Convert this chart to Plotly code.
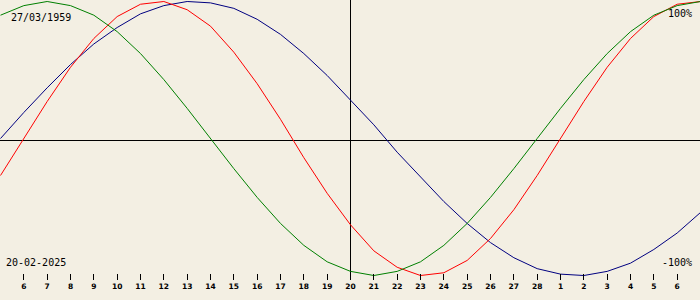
import plotly.graph_objects as go
import pandas as pd

birth_label = "27/03/1959"
date_label = "20-02-2025"
dates = pd.date_range("2025-02-05", "2025-03-07", freq="D")
selected_date = pd.Timestamp("2025-02-20")

physical = [-0.27, 0.00, 0.27, 0.52, 0.73, 0.89, 0.98, 1.00, 0.94, 0.82, 0.63,
            0.40, 0.14, -0.14, -0.40, -0.63, -0.82, -0.94, -1.00, -0.98, -0.89,
            -0.73, -0.52, -0.27, 0.00, 0.27, 0.52, 0.73, 0.89, 0.98, 1.00]
emotional = [0.90, 0.97, 1.00, 0.97, 0.90, 0.78, 0.62, 0.43, 0.22, 0.00, -0.22,
             -0.43, -0.62, -0.78, -0.90, -0.97, -1.00, -0.97, -0.90, -0.78, -0.62,
             -0.43, -0.22, 0.00, 0.22, 0.43, 0.62, 0.78, 0.90, 0.97, 1.00]
intellectual = [0.00, 0.19, 0.37, 0.54, 0.69, 0.81, 0.91, 0.97, 1.00, 0.99, 0.95,
                0.87, 0.76, 0.62, 0.46, 0.28, 0.10, -0.10, -0.28, -0.46, -0.62,
                -0.76, -0.87, -0.95, -0.99, -1.00, -0.97, -0.91, -0.81, -0.69, -0.54]

tick_dates = list(dates[1:30])
tick_text = [str(d.day) for d in tick_dates]

W, H, PLOT_H = 700, 300, 280
px_per_day = W / 30.0
half_px = pd.Timedelta(days=0.5 / px_per_day)   # pixel-align crisp lines
x_range = [dates[0] - half_px, dates[-1] - half_px]

BG = "#F3EFE3"
fig = go.Figure()
for name, vals, col in [("Intellectual", intellectual, "#000080"),
                        ("Physical", physical, "#FF0000"),
                        ("Emotional", emotional, "#008000")]:
    fig.add_trace(go.Scatter(x=dates, y=vals, mode="lines", name=name,
                             line=dict(color=col, width=1), hoverinfo="skip"))

# horizontal axis line (pixel row 140) and selected-day line
fig.add_shape(type="line", xref="paper", yref="paper", x0=0, x1=1,
              y0=1 - 140.5 / PLOT_H, y1=1 - 140.5 / PLOT_H,
              line=dict(color="black", width=1), layer="below")
fig.add_shape(type="line", xref="x", yref="paper", x0=selected_date, x1=selected_date,
              y0=0, y1=1, line=dict(color="black", width=1), layer="below")

font_txt = dict(family="DejaVu Sans Mono", size=10, color="black")
fig.add_annotation(x=9 / W, y=1, yshift=-17.5, xref="paper", yref="paper", text=birth_label,
                   showarrow=False, xanchor="left", yanchor="middle", font=font_txt)
fig.add_annotation(x=4 / W, y=0, yshift=17.5, xref="paper", yref="paper", text=date_label,
                   showarrow=False, xanchor="left", yanchor="middle", font=font_txt)
fig.add_annotation(x=694 / W, y=1, yshift=-13, xref="paper", yref="paper", text="100%",
                   showarrow=False, xanchor="right", yanchor="middle", font=font_txt)
fig.add_annotation(x=694 / W, y=0, yshift=17.5, xref="paper", yref="paper", text="-100%",
                   showarrow=False, xanchor="right", yanchor="middle", font=font_txt)

# curves: +1 -> pixel 1.5, -1 -> pixel 275.5
amp, center = 137.0, 138.5
y_range = [(center - PLOT_H) / amp, center / amp]

fig.update_layout(
    width=W, height=H, margin=dict(l=0, r=0, t=0, b=H - PLOT_H, pad=0),
    paper_bgcolor=BG, plot_bgcolor=BG, showlegend=False,
    xaxis=dict(range=x_range, tickvals=tick_dates, ticktext=tick_text,
               ticks="inside", ticklen=6, tickcolor="black", tickwidth=1,
               showgrid=False, zeroline=False, showline=False,
               tickfont=dict(family="DejaVu Sans", size=7.5, color="black", weight="bold")),
    yaxis=dict(range=y_range, visible=False, showgrid=False, zeroline=False),
)
fig.write_html("out.html")
